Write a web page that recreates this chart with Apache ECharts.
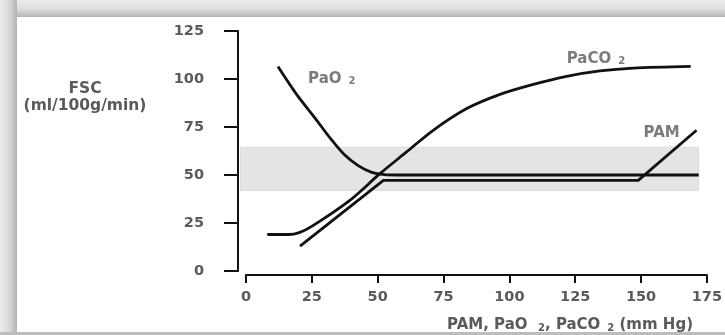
<!DOCTYPE html>
<html>
<head>
<meta charset="utf-8">
<script src="https://cdn.jsdelivr.net/npm/echarts@6/dist/echarts.min.js"></script>
<style>
  html, body { margin: 0; padding: 0; background: #fff; }
  #chart { width: 725px; height: 335px; }
</style>
</head>
<body>
<div id="chart"></div>
<script>
// values (x = pressure in mm Hg, y = FSC)
const xTicks = [0, 25, 50, 75, 100, 125, 150, 175];
const yTicks = [0, 25, 50, 75, 100, 125];

const pao2 = [
    [12, 106.5], [19, 92], [26, 79.5], [32, 68.5], [37, 60.5], [42, 55],
    [47, 51.5], [52, 50.2], [57, 50], [170, 50]
];
const paco2 = [
    [8, 19], [16, 19], [20, 20], [25, 23.5], [39, 36.8], [50.3, 50.7],
    [60.3, 62], [70.3, 73.3], [82.9, 84.6], [95.4, 92], [107.9, 97.2],
    [120.4, 101.4], [132.9, 104.2], [145.4, 105.7], [167, 106.6]
];
const pam = [
    [20.3, 13], [51.6, 47.2], [147.3, 47.2], [169.2, 73.3]
];

// autoregulation plateau band
const bandX = [-2, 170];
const bandY = [42, 64.5];

// curve labels
const labelText = ['{a|PaO}{s|  2}', '{a|PaCO}{s|  2}', '{a|PAM}'];
const labelPos  = [[32.2, 100], [131.4, 110.3], [156.1, 72]];

document.addEventListener('DOMContentLoaded', () => {

    const chart = echarts.init(document.getElementById('chart'));

    const txtGrey = '#5a5a5a';
    const font    = 'DejaVu Sans';
    const lineCol = '#111';

    const richLbl = {
        a: { fontFamily: font, fontWeight: 'bold', fontSize: 15, color: txtGrey },
        s: { fontFamily: font, fontWeight: 'bold', fontSize: 10, color: txtGrey, verticalAlign: 'bottom' }
    };

    const curve = (name, data, smooth) => ({
        name: name,
        type: 'line',
        xAxisIndex: 0, yAxisIndex: 0,
        data: data,
        smooth: smooth,
        symbol: 'none',
        lineStyle: { color: lineCol, width: 2.8 },
        z: 3
    });

    const option = {
        animation: false,
        backgroundColor: '#fff',
        title: [
            {
                text: 'FSC\n(ml/100g/min)',
                left: 80, top: 75, textAlign: 'center',
                textStyle: { fontFamily: font, fontWeight: 'bold', fontSize: 15.5, color: txtGrey, lineHeight: 17 }
            },
            {
                text: '{a|PAM, PaO}{s|   2}{a|, PaCO}{s|  2}{a| (mm Hg)}',
                right: 27, top: 313,
                textStyle: { rich: richLbl }
            }
        ],
        grid: [
            { left: 238, right: 13, top: 31, bottom: 64 },   // plot + y axis
            { left: 246, right: 13, top: 200, bottom: 60 }   // x axis (offset like the original)
        ],
        xAxis: [
            { gridIndex: 0, type: 'value', min: -3, max: 175, show: false },
            {
                gridIndex: 1, type: 'value', min: 0, max: 175, interval: 25,
                axisLine:  { show: true, onZero: false, lineStyle: { color: lineCol, width: 2 } },
                axisTick:  { show: true, length: 8, lineStyle: { color: lineCol, width: 2 } },
                axisLabel: { margin: 15, fontFamily: font, fontWeight: 'bold', fontSize: 14.5, color: txtGrey,
                             customValues: xTicks },
                splitLine: { show: false }
            }
        ],
        yAxis: [
            {
                gridIndex: 0, type: 'value', min: 0, max: 125, interval: 25,
                axisLine:  { show: true, onZero: false, lineStyle: { color: lineCol, width: 2 } },
                axisTick:  { show: true, length: 14, lineStyle: { color: lineCol, width: 2 } },
                axisLabel: { margin: 34, fontFamily: font, fontWeight: 'bold', fontSize: 14.5, color: txtGrey,
                             customValues: yTicks },
                splitLine: { show: false }
            },
            { gridIndex: 1, type: 'value', min: 0, max: 1, show: false }
        ],
        series: [
            Object.assign(curve('PaO2', pao2, 0.3), {
                markArea: {
                    silent: true,
                    itemStyle: { color: '#e4e4e4', borderColor: '#d9d9d9', borderWidth: 1 },
                    data: [[ { xAxis: bandX[0], yAxis: bandY[0] }, { xAxis: bandX[1], yAxis: bandY[1] } ]]
                }
            }),
            curve('PaCO2', paco2, 0.3),
            curve('PAM', pam, false),
            {
                name: 'labels',
                type: 'scatter',
                xAxisIndex: 0, yAxisIndex: 0,
                symbolSize: 0,
                silent: true,
                data: labelPos.map((p, i) => ({ value: p, lbl: labelText[i] })),
                label: {
                    show: true, position: 'inside',
                    formatter: (p) => p.data.lbl,
                    rich: richLbl
                },
                z: 4
            }
        ],
        graphic: [
            // greyish photo frame on top / left / bottom
            { type: 'rect', left: 0, top: 0, shape: { width: 725, height: 17 }, z: 100,
              style: { fill: new echarts.graphic.LinearGradient(0, 0, 0, 1, [
                  { offset: 0, color: '#ececec' }, { offset: 0.55, color: '#dcdcdc' }, { offset: 1, color: '#b4b4b4' } ]) } },
            { type: 'rect', left: 0, top: 0, shape: { width: 17, height: 335 }, z: 100,
              style: { fill: new echarts.graphic.LinearGradient(0, 0, 1, 0, [
                  { offset: 0, color: '#ececec' }, { offset: 0.55, color: '#d8d8d8' }, { offset: 1, color: '#b4b4b4' } ]) } },
            { type: 'rect', left: 0, top: 332, shape: { width: 725, height: 3 }, z: 100,
              style: { fill: '#bcbcbc' } }
        ]
    };

    chart.setOption(option);
});
</script>
</body>
</html>
